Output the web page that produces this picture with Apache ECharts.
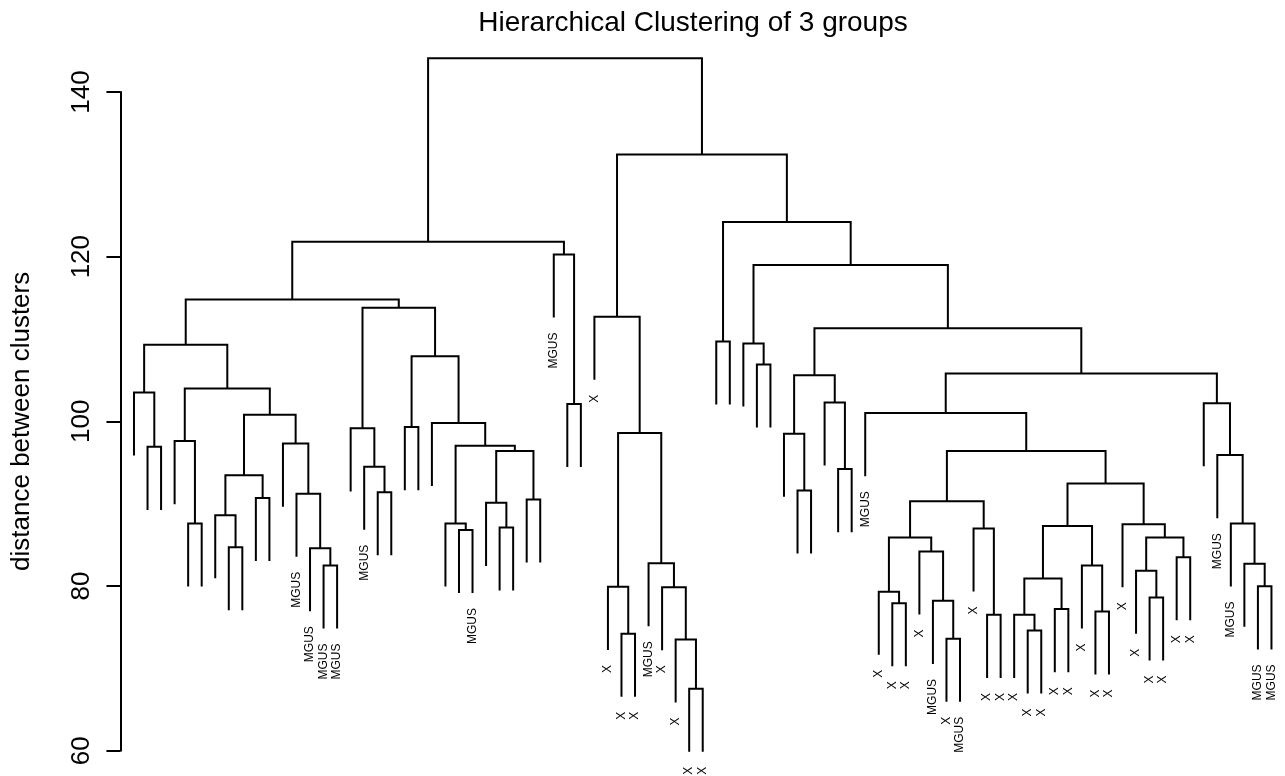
<!DOCTYPE html>
<html>
<head>
<meta charset="utf-8">
<title>Hierarchical Clustering of 3 groups</title>
<script src="https://cdn.jsdelivr.net/npm/echarts@6/dist/echarts.min.js"></script>
<style>
  html, body { margin: 0; padding: 0; background: #fff; }
  #chart { width: 1285px; height: 776px; }
</style>
</head>
<body>
<div id="chart"></div>
<script>
// Leaf labels in dendrogram order (left to right)
const leafLabels = [
  '', '', '', '', '', '', '', '', '', '', '', '', 'MGUS', 'MGUS', 'MGUS', 'MGUS',
  '', 'MGUS', '', '', '', '', '', '', '', 'MGUS', '', '', '', '', '',
  'MGUS', '', '',
  'X', 'X', 'X', 'X', 'MGUS', 'X', 'X', 'X', 'X',
  '', '', '', '', '', '', '', '', '', '', '',
  'MGUS', 'X', 'X', 'X', 'X', 'MGUS', 'X', 'MGUS', 'X', 'X', 'X',
  'X', 'X', 'X', 'X', 'X', 'X', 'X', 'X', 'X', 'X', 'X', 'X', 'X', 'X',
  '', 'MGUS', 'MGUS', '', 'MGUS', 'MGUS'
];

// Merge steps (hclust style): negative = leaf position, positive = earlier merge step
const merges = [
  [-2, -3], [-1, 1], [-5, -6], [-4, 3], [-8, -9], [-7, 5], [-10, -11], [6, 7],
  [-15, -16], [-14, 9], [-13, 10], [-12, 11], [8, 12], [4, 13], [2, 14],
  [-19, -20], [-18, 16], [-17, 17], [-21, -22], [-25, -26], [-24, 20], [-28, -29],
  [-27, 22], [-30, -31], [23, 24], [21, 25], [-23, 26], [19, 27], [18, 28], [15, 29],
  [-33, -34], [-32, 31], [30, 32],
  [-37, -38], [-36, 34], [-42, -43], [-41, 36], [-40, 37], [-39, 38], [35, 39], [-35, 40],
  [-44, -45], [-47, -48], [-46, 43], [-50, -51], [-49, 45], [-53, -54], [-52, 47], [46, 48],
  [-57, -58], [-56, 50], [-61, -62], [-60, 52], [-59, 53], [51, 54], [-64, -65], [-63, 56],
  [55, 57], [-67, -68], [-66, 59], [-69, -70], [60, 61], [-72, -73], [-71, 63], [62, 64],
  [-76, -77], [-75, 66], [-78, -79], [67, 68], [-74, 69], [65, 70], [58, 71], [-55, 72],
  [-84, -85], [-83, 74], [-82, 75], [-81, 76], [-80, 77], [73, 78], [49, 79], [44, 80],
  [42, 81], [41, 82], [33, 83]
];

// Height of each merge step (distance between clusters)
const heights = [
  96.9, 103.5, 87.6, 97.6, 84.7, 88.6, 90.7, 93.45,
  82.5, 84.6, 91.2, 97.3, 100.8, 104.0, 109.3,
  91.4, 94.5, 99.15, 99.3, 86.8, 87.6, 87.1,
  90.1, 90.5, 96.4, 97.05, 99.8, 107.9, 113.8, 114.8,
  102.1, 120.26, 121.8,
  74.2, 79.9, 67.53, 73.5, 79.85, 82.76, 98.57, 112.7,
  109.7, 106.9, 109.45, 91.6, 98.5, 94.2, 102.3, 105.6,
  77.9, 79.3, 73.6, 78.2, 84.2, 85.9, 76.5, 87.0,
  90.3, 74.6, 76.5, 77.2, 80.9, 76.9, 82.5, 87.3,
  78.6, 81.85, 83.5, 85.9, 87.5, 92.45, 96.4, 101.0,
  79.96, 82.7, 87.6, 95.9, 102.2, 105.8, 111.3, 119.0,
  124.2, 132.4, 144.1
];

const yTicks = { min: 60, max: 140, step: 20 };
const hangFraction = 0.1;

// ---- build link segments from the merge table ----
const hang = hangFraction * (Math.max(...heights) - Math.min(...heights));
const nodeX = [];
const linkData = [];
const leafData = [];
merges.forEach(function (pair, k) {
  const h = heights[k];
  const ends = pair.map(function (c) {
    if (c < 0) {
      const leaf = -c;
      leafData.push([leaf, h - hang, leafLabels[leaf - 1]]);
      return [leaf, h - hang];
    }
    return [nodeX[c - 1], heights[c - 1]];
  });
  nodeX[k] = (ends[0][0] + ends[1][0]) / 2;
  linkData.push([ends[0][0], ends[0][1], ends[1][0], ends[1][1], h]);
});

const FONT = '"Liberation Sans", Arial, Helvetica, sans-serif';
const chart = echarts.init(document.getElementById('chart'), null, { renderer: 'canvas' });

chart.setOption({
  animation: false,
  backgroundColor: '#fff',
  grid: { left: 120.45, top: 92, bottom: 25.3, width: 86 * 13.551, containLabel: false },
  graphic: [{
    type: 'text',
    x: 693, y: 23,
    style: {
      text: 'Hierarchical Clustering of 3 groups',
      fill: '#000', font: '28px ' + FONT,
      align: 'center', verticalAlign: 'middle'
    }
  }],
  xAxis: { type: 'value', min: 0, max: leafLabels.length + 1, show: false },
  yAxis: {
    type: 'value', min: yTicks.min, max: yTicks.max, interval: yTicks.step,
    name: 'distance between clusters', nameLocation: 'middle', nameRotate: 90, nameGap: 86,
    nameTextStyle: { color: '#000', fontSize: 26, fontFamily: FONT },
    axisLine: { show: true, lineStyle: { color: '#000', width: 2 } },
    axisTick: { show: true, length: 14, lineStyle: { color: '#000', width: 2 } },
    axisLabel: { rotate: 90, margin: 26, color: '#000', fontSize: 26, fontFamily: FONT },
    splitLine: { show: false }
  },
  series: [
    {
      type: 'custom',
      silent: true,
      clip: false,
      data: linkData,
      renderItem: function (params, api) {
        const a = api.coord([api.value(0), api.value(1)]);
        const b = api.coord([api.value(0), api.value(4)]);
        const c = api.coord([api.value(2), api.value(4)]);
        const d = api.coord([api.value(2), api.value(3)]);
        return {
          type: 'polyline',
          shape: { points: [a, b, c, d] },
          style: { stroke: '#000', lineWidth: 2, fill: null, lineJoin: 'miter' }
        };
      }
    },
    {
      type: 'custom',
      silent: true,
      clip: false,
      data: leafData,
      renderItem: function (params, api) {
        const p = api.coord([api.value(0), api.value(1)]);
        const txt = leafData[params.dataIndex][2];
        return {
          type: 'text',
          x: p[0], y: p[1] + 15,
          rotation: Math.PI / 2,
          style: {
            text: txt, fill: '#000', font: '12px ' + FONT,
            align: 'right', verticalAlign: 'middle'
          }
        };
      }
    }
  ]
});
</script>
</body>
</html>
